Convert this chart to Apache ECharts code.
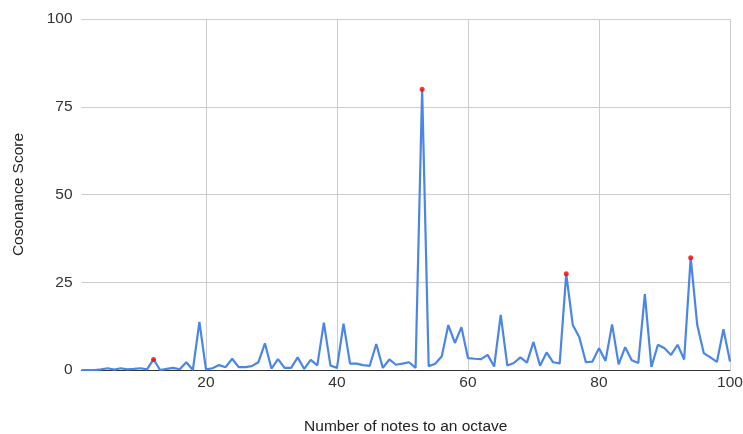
<!DOCTYPE html>
<html>
<head>
<meta charset="utf-8">
<script src="https://cdn.jsdelivr.net/npm/echarts@6/dist/echarts.min.js"></script>
<style>html,body{margin:0;padding:0;background:#fff}#c{width:743px;height:434px}</style>
</head>
<body>
<div id="c"></div>
<script>
const notes = Array.from({length: 100}, (_, i) => i + 1);
const scores = [
  0, 0, 0, 0.2, 0.5, 0.1, 0.5, 0.2, 0.3, 0.5,
  0.2, 3, 0, 0.3, 0.6, 0.2, 2.2, 0, 13.7, 0.2,
  0.5, 1.4, 0.8, 3.2, 0.8, 0.8, 1.1, 2.2, 7.6, 0.4,
  3.1, 0.6, 0.6, 3.6, 0.3, 2.9, 1.3, 13.5, 1.3, 0.6,
  13.2, 1.8, 1.8, 1.4, 1.2, 7.4, 0.6, 3.0, 1.5, 1.8,
  2.2, 0.6, 80, 1.1, 1.8, 3.9, 12.8, 7.7, 12.2, 3.4,
  3.2, 3.1, 4.3, 1.0, 15.7, 1.3, 2.0, 3.6, 2.1, 8.0,
  1.2, 5.0, 2.2, 1.9, 27.4, 12.8, 9.3, 2.2, 2.4, 6.2,
  2.6, 13.0, 1.6, 6.5, 2.8, 2.0, 21.6, 0.9, 7.2, 6.2,
  4.3, 7.2, 3.0, 32, 12.8, 4.8, 3.6, 2.3, 11.6, 2.4
];
const highlighted = [12, 53, 75, 94];
const yTicks = [0, 25, 50, 75, 100];

const lineData = notes.map((n, i) => [n, scores[i]]);
const pointData = highlighted.map(n => [n, scores[notes.indexOf(n)]]);

const chart = echarts.init(document.getElementById('c'), null, {renderer: 'canvas'});
const font = '"Liberation Sans", Arial, sans-serif';
chart.setOption({
  animation: false,
  grid: {left: 81.5, right: 13, top: 19, bottom: 64, containLabel: false, outerBoundsMode: 'none'},
  xAxis: {
    type: 'value', min: 1, max: 100,
    name: 'Number of notes to an octave', nameLocation: 'middle', nameGap: 49,
    nameTextStyle: {color: '#222', fontSize: 15.5, fontFamily: font},
    axisLine: {show: true, onZero: false, lineStyle: {color: '#333', width: 1}},
    axisTick: {show: false},
    axisLabel: {color: '#333', fontSize: 15.5, fontFamily: font, margin: 5, showMinLabel: false},
    splitLine: {show: true, showMinLine: false, lineStyle: {color: '#cccccc', width: 1}}
  },
  yAxis: {
    type: 'value', min: yTicks[0], max: yTicks[yTicks.length - 1], interval: 25,
    name: 'Cosonance Score', nameLocation: 'middle', nameGap: 55,
    nameTextStyle: {color: '#222', fontSize: 15.5, fontFamily: font},
    axisLine: {show: false},
    axisTick: {show: false},
    axisLabel: {color: '#333', fontSize: 15.5, fontFamily: font, margin: 9},
    splitLine: {show: true, lineStyle: {color: '#cccccc', width: 1}}
  },
  series: [
    {
      type: 'line', data: lineData, showSymbol: false, symbol: 'none',
      lineStyle: {color: '#4a86e8', width: 2.2}, z: 2
    },
    {
      type: 'scatter', data: pointData, symbol: 'circle', symbolSize: 5,
      itemStyle: {color: '#ff0000'}, z: 3
    }
  ]
});
</script>
</body>
</html>
